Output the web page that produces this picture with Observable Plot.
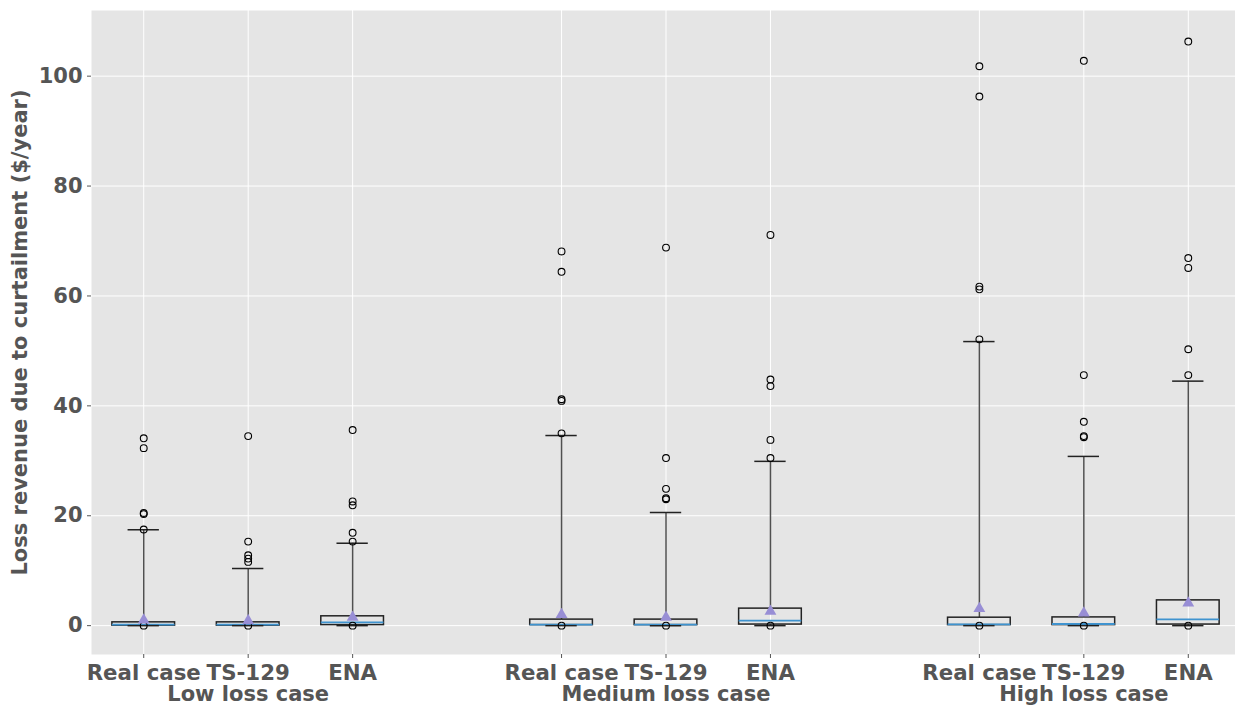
<!DOCTYPE html>
<html>
<head>
<meta charset="utf-8">
<script src="https://cdn.jsdelivr.net/npm/d3@7"></script>
<script src="https://cdn.jsdelivr.net/npm/@observablehq/plot@0.6"></script>
<style>
  html, body { margin: 0; padding: 0; background: #ffffff; overflow: hidden; }
</style>
</head>
<body>
<div id="chart"></div>
<script>
// ---- data ----
const groups = ["Low loss case", "Medium loss case", "High loss case"];
const groupPositions = [2, 6, 10];
const methods = ["Real case", "TS-129", "ENA"];
const positions = [1, 2, 3, 5, 6, 7, 9, 10, 11];
const tickLabels = ["Real case", "TS-129", "ENA", "Real case", "TS-129", "ENA", "Real case", "TS-129", "ENA"];

const q1 =       [0.0, 0.0, 0.1, 0.1, 0.1, 0.2, 0.1, 0.1, 0.2];
const q3 =       [0.6, 0.6, 1.7, 1.1, 1.1, 3.1, 1.45, 1.5, 4.6];
const medians =  [0.2, 0.2, 0.6, 0.2, 0.2, 0.9, 0.24, 0.3, 1.15];
const means =    [1.0, 0.9, 1.5, 2.0, 1.5, 2.6, 3.1, 2.3, 4.1];
const whiskerLow =  [0, 0, 0, 0, 0, 0, 0, 0, 0];
const whiskerHigh = [17.45, 10.4, 15.0, 34.6, 20.6, 29.9, 51.7, 30.8, 44.5];
const fliers = [
  [34.1, 32.3, 20.5, 20.3, 17.5, 0],
  [34.5, 15.3, 12.8, 12.2, 11.6, 0],
  [35.6, 22.6, 21.9, 16.9, 15.3, 0],
  [68.1, 64.4, 41.2, 40.9, 35.0, 0],
  [68.8, 30.5, 24.9, 23.2, 23.0, 0],
  [71.1, 44.8, 43.6, 33.8, 30.5, 0],
  [101.8, 96.3, 61.7, 61.2, 52.1, 0],
  [102.8, 45.6, 37.1, 34.5, 34.3, 0],
  [106.3, 66.9, 65.1, 50.3, 45.6, 0]
];
const yTicks = [0, 20, 40, 60, 80, 100];

// ---- build tables ----
const boxW = 0.3, capW = 0.15;
const boxes = positions.map((p, i) => ({
  p, q1: q1[i], q3: q3[i], med: medians[i], mean: means[i],
  lo: whiskerLow[i], hi: whiskerHigh[i]
}));
const flierPts = positions.flatMap((p, i) => fliers[i].map(v => ({p, v})));

const chart = Plot.plot({
  width: 1235,
  height: 706,
  marginLeft: 91,
  marginRight: 0,
  marginTop: 10,
  marginBottom: 52,
  style: {fontFamily: "'DejaVu Sans', sans-serif", fontWeight: "bold", color: "#555555", background: "#ffffff"},
  x: {domain: [0.5, 11.452], axis: null},
  y: {domain: [-5.25, 111.95], axis: null},
  marks: [
    Plot.frame({fill: "#E5E5E5", stroke: "none"}),
    Plot.gridY(yTicks, {stroke: "#ffffff", strokeOpacity: 1, strokeWidth: 1}),
    Plot.gridX(positions, {stroke: "#ffffff", strokeOpacity: 1, strokeWidth: 1}),
    Plot.axisY({ticks: yTicks, tickSize: 4, tickPadding: 5, fontSize: 21,
      label: "Loss revenue due to curtailment ($/year)", labelAnchor: "center", labelArrow: "none", labelOffset: 79}),
    Plot.axisX({ticks: positions, tickSize: 4, tickPadding: 6, fontSize: 21.3,
      tickFormat: d => tickLabels[positions.indexOf(d)], label: null}),
    Plot.axisX({ticks: groupPositions, tickSize: 0, tickPadding: 32, fontSize: 21,
      tickFormat: d => groups[groupPositions.indexOf(d)], label: null}),
    // whiskers
    Plot.ruleX(boxes, {x: "p", y1: "q3", y2: "hi", stroke: "#505050", strokeWidth: 1.5}),
    Plot.ruleX(boxes, {x: "p", y1: "lo", y2: "q1", stroke: "#505050", strokeWidth: 1.5}),
    // boxes
    Plot.rect(boxes, {x1: d => d.p - boxW, x2: d => d.p + boxW, y1: "q1", y2: "q3",
      fill: "none", stroke: "#222222", strokeWidth: 1.5}),
    // medians
    Plot.ruleY(boxes, {y: "med", x1: d => d.p - boxW, x2: d => d.p + boxW, stroke: "#3F93CF", strokeWidth: 1.8}),
    // caps
    Plot.ruleY(boxes, {y: "hi", x1: d => d.p - capW, x2: d => d.p + capW, stroke: "#222222", strokeWidth: 1.5}),
    Plot.ruleY(boxes, {y: "lo", x1: d => d.p - capW, x2: d => d.p + capW, stroke: "#222222", strokeWidth: 1.5}),
    // fliers
    Plot.dot(flierPts, {x: "p", y: "v", r: 3.4, stroke: "#000000", strokeWidth: 1.1, fill: "none"}),
    // means
    Plot.dot(boxes, {x: "p", y: "mean", symbol: "triangle", r: 4.4, fill: "#988ED5", stroke: "none"})
  ]
});
document.getElementById("chart").appendChild(chart);
</script>
</body>
</html>
